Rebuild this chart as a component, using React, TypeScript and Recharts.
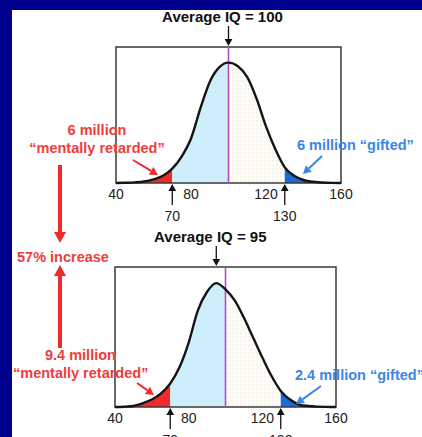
import React from "react";
import {
  Area,
  ComposedChart,
  Line,
  ReferenceArea,
  ReferenceLine,
  XAxis,
  YAxis,
} from "recharts";

const IQ = [
  40, 45, 50, 55, 60, 65, 70, 75, 80, 85, 90, 95, 100, 105, 110, 115, 120, 125,
  130, 135, 140, 145, 150, 155, 160,
];

// curve heights (peak = 100)
const TOP_CURVE = [
  0, 0.2, 0.5, 1.2, 3, 6, 12, 22, 37, 62, 84, 96, 100, 97, 88, 70, 47, 28, 13,
  6, 2.5, 1, 0.4, 0.1, 0,
];
const BOTTOM_CURVE = [
  0, 0.2, 0.8, 3, 6, 11, 19, 32, 52, 78, 93, 100, 95, 86, 72, 56, 40, 25, 13, 6,
  2, 0.8, 0.3, 0.1, 0,
];

const TICKS = [40, 70, 80, 120, 130, 160];
const ARROW_TICKS = [70, 130];

const FONT = "'Liberation Sans', Arial, Helvetica, sans-serif";
const RED = "#ef2b2b";
const RED_TEXT = "#f03c3c";
const BLUE = "#1c68d8";
const BLUE_TEXT = "#3a86e6";
const LIGHT_BLUE = "#cdeefa";
const PURPLE = "#b44cc6";

function buildRows(curve: number[]) {
  return IQ.map((iq, i) => {
    const y = curve[i];
    return {
      iq,
      y,
      red: iq <= 70 ? y : null,
      light: iq >= 70 && iq <= 100 ? y : null,
      stip: iq >= 100 && iq <= 130 ? y : null,
      blue: iq >= 130 ? y : null,
    };
  });
}

function Arrow({ x1, y1, x2, y2, color = "#111", width = 1.2, head = 6 }: any) {
  const a = Math.atan2(y2 - y1, x2 - x1);
  const bx = x2 - Math.cos(a) * head;
  const by = y2 - Math.sin(a) * head;
  const px = Math.sin(a) * head * 0.55;
  const py = -Math.cos(a) * head * 0.55;
  return (
    <g>
      <line x1={x1} y1={y1} x2={bx} y2={by} stroke={color} strokeWidth={width} />
      <polygon
        points={`${x2},${y2} ${bx + px},${by + py} ${bx - px},${by - py}`}
        fill={color}
      />
    </g>
  );
}

function IQTick(props: any) {
  const { x, y, payload } = props;
  const v = payload.value;
  if (ARROW_TICKS.includes(v)) {
    return (
      <g>
        <Arrow x1={x} y1={y + 22} x2={x} y2={y + 1} width={1.3} head={7} />
        <text x={x} y={y + 38} textAnchor="middle" fontSize={14} fill="#222" fontFamily={FONT}>
          {v}
        </text>
      </g>
    );
  }
  return (
    <text x={x} y={y + 16} textAnchor="middle" fontSize={14} fill="#222" fontFamily={FONT}>
      {v}
    </text>
  );
}

function TitleMark(props: any) {
  const { viewBox, title } = props;
  const x = viewBox.x;
  const top = viewBox.y;
  return (
    <g>
      <Arrow x1={x} y1={top - 21} x2={x} y2={top - 1} width={1.3} head={7} />
      <text
        x={x - 6}
        y={top - 25}
        textAnchor="middle"
        fontSize={15}
        fontWeight="bold"
        fill="#111"
        fontFamily={FONT}
      >
        {title}
      </text>
    </g>
  );
}

function Bell({ curve, mean, title, id, margin, height }: any) {
  const data = buildRows(curve);
  return (
    <ComposedChart width={422} height={height} data={data} margin={margin}>
      <defs>
        <pattern id={`dots-${id}`} width={4} height={4} patternUnits="userSpaceOnUse">
          <rect width={4} height={4} fill="#fdfcf6" />
          <circle cx={1} cy={1} r={0.6} fill="#d8d3c2" />
        </pattern>
      </defs>
      <XAxis
        dataKey="iq"
        type="number"
        domain={[40, 160]}
        ticks={TICKS}
        interval={0}
        axisLine={false}
        tickLine={false}
        tickSize={0}
        tickMargin={0}
        height={margin.axis}
        tick={<IQTick />}
      />
      <YAxis type="number" domain={[0, 113]} hide width={0} />
      <Area dataKey="red" type="monotone" stroke="none" fill={RED} fillOpacity={1} isAnimationActive={false} />
      <Area dataKey="light" type="monotone" stroke="none" fill={LIGHT_BLUE} fillOpacity={1} isAnimationActive={false} />
      <Area dataKey="stip" type="monotone" stroke="none" fill={`url(#dots-${id})`} fillOpacity={1} isAnimationActive={false} />
      <Area dataKey="blue" type="monotone" stroke="none" fill={BLUE} fillOpacity={1} isAnimationActive={false} />
      <ReferenceLine x={100} stroke={PURPLE} strokeWidth={1.6} />
      <Line dataKey="y" type="monotone" stroke="#151515" strokeWidth={2.4} dot={false} isAnimationActive={false} />
      <ReferenceArea x1={40} x2={160} y1={0} y2={113} fill="none" stroke="#3a3a3a" strokeWidth={1.5} />
      <ReferenceLine x={mean} stroke="none" label={<TitleMark title={title} />} />
    </ComposedChart>
  );
}

export default function App() {
  const txt = { fontFamily: FONT, fontWeight: "bold" as const, fontSize: 14.5 };
  return (
    <div
      style={{
        position: "absolute",
        left: 0,
        top: 0,
        width: 422,
        height: 437,
        background: "#00008c",
        overflow: "hidden",
      }}
    >
      <div style={{ position: "absolute", left: 12, top: 10, width: 410, height: 427, background: "#fff" }} />
      <div style={{ position: "absolute", left: 0, top: 0 }}>
        <Bell
          curve={TOP_CURVE}
          mean={100}
          title="Average IQ = 100"
          id="top"
          height={232}
          margin={{ top: 47, right: 81, bottom: 0, left: 116, axis: 49 }}
        />
      </div>
      <div style={{ position: "absolute", left: 0, top: 220 }}>
        <Bell
          curve={BOTTOM_CURVE}
          mean={95}
          title="Average IQ = 95"
          id="bottom"
          height={232}
          margin={{ top: 47, right: 86, bottom: 0, left: 115, axis: 45 }}
        />
      </div>
      <svg width={422} height={437} style={{ position: "absolute", left: 0, top: 0, pointerEvents: "none" }}>
        {/* top annotations */}
        <text x={97} y={135} textAnchor="middle" fill={RED_TEXT} {...txt}>6 million</text>
        <text x={97} y={153} textAnchor="middle" fill={RED_TEXT} {...txt}>“mentally retarded”</text>
        <Arrow x1={133} y1={160} x2={158} y2={175} color={RED} width={2} head={8} />
        <text x={297} y={150} fill={BLUE_TEXT} {...txt}>6 million “gifted”</text>
        <Arrow x1={322} y1={156} x2={303} y2={174} color={BLUE_TEXT} width={2} head={8} />

        {/* increase arrows */}
        <Arrow x1={60} y1={165} x2={60} y2={243} color={RED} width={4} head={11} />
        <text x={17} y={262} fill={RED_TEXT} {...txt}>57% increase</text>
        <Arrow x1={60} y1={348} x2={60} y2={265} color={RED} width={4} head={11} />

        {/* bottom annotations */}
        <text x={45} y={360} fill={RED_TEXT} {...txt}>9.4 million</text>
        <text x={13} y={378} fill={RED_TEXT} {...txt}>“mentally retarded”</text>
        <Arrow x1={137} y1={383} x2={154} y2={395} color={RED} width={2} head={8} />
        <text x={295} y={380} fill={BLUE_TEXT} {...txt}>2.4 million “gifted”</text>
        <Arrow x1={321} y1={386} x2={296} y2={404} color={BLUE_TEXT} width={2} head={8} />
      </svg>
    </div>
  );
}
